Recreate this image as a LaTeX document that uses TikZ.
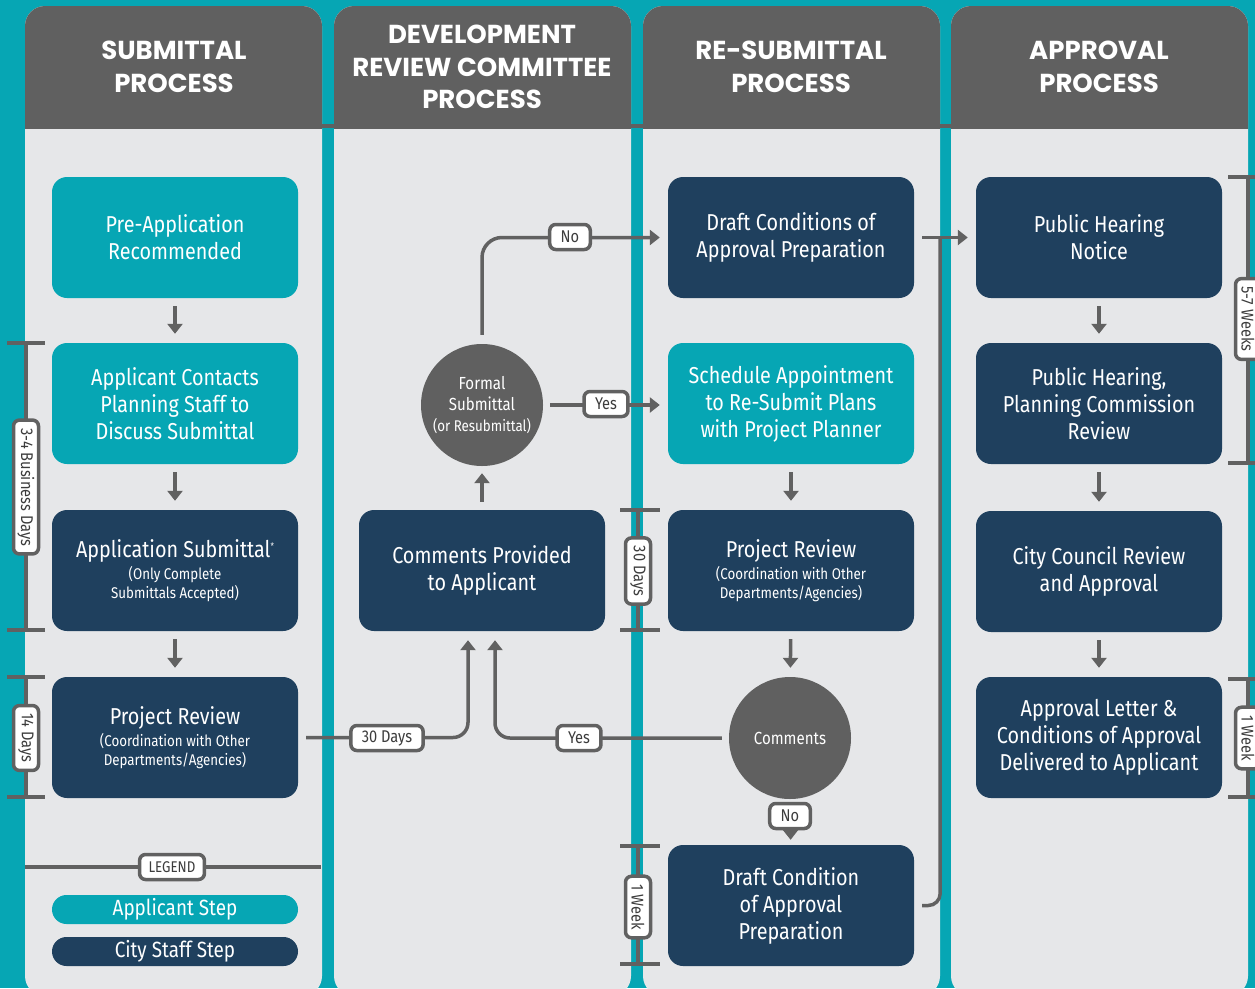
\documentclass[tikz,border=0pt]{standalone}
\usepackage{fontspec}
\setmainfont{Fira Sans}[FakeStretch=0.86]
\newfontfamily\headfont{Poppins}
\usetikzlibrary{arrows.meta}
\definecolor{tealc}{RGB}{6,166,180}
\definecolor{navyc}{RGB}{31,64,94}
\definecolor{hgray}{RGB}{96,96,96}
\definecolor{bgray}{RGB}{230,231,233}
\definecolor{lgray}{RGB}{97,97,97}
\definecolor{tagtext}{RGB}{60,60,60}
\newcommand{\subf}{\fontsize{15.5}{18}\selectfont}
\tikzset{
 box/.style={rounded corners=15pt, minimum width=246pt, minimum height=121pt, align=center, text=white, font=\fontsize{23}{27}\selectfont, inner sep=0pt},
 appbox/.style={box, fill=tealc},
 staffbox/.style={box, fill=navyc},
 dec/.style={circle, fill=hgray, minimum size=122pt, text=white, align=center, font=\fontsize{17.5}{21}\selectfont, inner sep=0pt},
 tagbox/.style={draw=lgray, line width=3.5pt, fill=white, rounded corners=6pt, font=\fontsize{17}{18}\selectfont, text=tagtext, inner xsep=11pt, inner ysep=0pt, minimum height=25pt},
 arr/.style={draw=lgray, line width=3.5pt, -{Triangle[width=15pt,length=10pt]}},
 conn/.style={draw=lgray, line width=3.5pt},
 brk/.style={draw=lgray, line width=4pt},
 header/.style={text=white, font=\headfont\bfseries\fontsize{26}{32.5}\selectfont, align=center},
 pill/.style={rounded corners=14.5pt, minimum width=246pt, minimum height=29pt, text=white, font=\fontsize{22}{24}\selectfont, inner sep=0pt}
}
\begin{document}
\begin{tikzpicture}[x=1pt,y=-1pt]
\useasboundingbox (0,0) rectangle (1255,988);
\fill[tealc] (0,0) rectangle (1255,988);
% columns
\foreach \L in {25,334,643,951}{
  \fill[bgray, rounded corners=20pt] (\L,6) rectangle (\L+297,996);
  \begin{scope}
    \clip (\L,0) rectangle (\L+297,128);
    \fill[hgray, rounded corners=20pt] (\L,6) rectangle (\L+297,200);
  \end{scope}
}
\fill[hgray] (25,124) rectangle (1248,128);
% headers
\node[header] (h1) at (174,67) {SUBMITTAL\\PROCESS};
\node[header] (h2) at (482,67) {DEVELOPMENT\\REVIEW COMMITTEE\\PROCESS};
\node[header] (h3) at (791,67) {RE-SUBMITTAL\\PROCESS};
\node[header] (h4) at (1099,67) {APPROVAL\\PROCESS};
% column 1
\node[appbox] (pre) at (175,237.5) {Pre-Application\\Recommended};
\node[appbox] (contact) at (175,403.5) {Applicant Contacts\\Planning Staff to\\Discuss Submittal};
\node[staffbox] (appsub) at (175,570.5) {Application Submittal\raisebox{8pt}{\fontsize{9}{9}\selectfont *}\\[-5pt]{\subf (Only Complete}\\[-8pt]{\subf Submittals Accepted)}};
\node[staffbox] (prj1) at (175,737.5) {Project Review\\[-5pt]{\subf (Coordination with Other}\\[-8pt]{\subf Departments/Agencies)}};
% column 2
\node[staffbox] (cp) at (482,570.5) {Comments Provided\\to Applicant};
\node[dec] (fs) at (482,405) {Formal\\Submittal\\{\subf (or Resubmittal)}};
% column 3
\node[staffbox] (dc1) at (791,237.5) {Draft Conditions of\\Approval Preparation};
\node[appbox] (sched) at (791,403.5) {Schedule Appointment\\to Re-Submit Plans\\with Project Planner};
\node[staffbox] (prj2) at (791,570.5) {Project Review\\[-5pt]{\subf (Coordination with Other}\\[-8pt]{\subf Departments/Agencies)}};
\node[dec] (cm) at (790,738) {Comments};
\node[staffbox] (dc2) at (791,905.5) {Draft Condition\\of Approval\\Preparation};
% column 4
\node[staffbox] (pub1) at (1099,237.5) {Public Hearing\\Notice};
\node[staffbox] (pub2) at (1099,403.5) {Public Hearing,\\Planning Commission\\Review};
\node[staffbox] (cc) at (1099,571.5) {City Council Review\\and Approval};
\node[staffbox] (al) at (1099,737.5) {Approval Letter \&\\Conditions of Approval\\Delivered to Applicant};
% vertical arrows
\draw[arr, shorten <=8pt, shorten >=9pt] (pre) -- (contact);
\draw[arr, shorten <=8pt, shorten >=9pt] (contact) -- (appsub);
\draw[arr, shorten <=8pt, shorten >=9pt] (appsub) -- (prj1);
\draw[arr, shorten <=8pt, shorten >=9pt] (sched) -- (prj2);
\draw[arr, shorten <=8pt, shorten >=9pt] (prj2) -- (cm);
\draw[arr, shorten <=8pt, shorten >=9pt] (pub1) -- (pub2);
\draw[arr, shorten <=8pt, shorten >=9pt] (pub2) -- (cc);
\draw[arr, shorten <=8pt, shorten >=9pt] (cc) -- (al);
\draw[arr, shorten <=8pt, shorten >=7pt] (cp) -- (fs);
\draw[arr, shorten <=4pt, shorten >=5pt] (cm) -- (dc2);
% routed connectors
\draw[arr, rounded corners=15pt, shorten <=8pt, shorten >=9pt] (prj1.east) -| ([xshift=-14pt]cp.south);
\draw[arr, rounded corners=15pt, shorten <=7pt, shorten >=9pt] (cm.west) -| ([xshift=13pt]cp.south);
\draw[arr, rounded corners=20pt, shorten <=9pt, shorten >=8pt] (fs.north) |- (dc1.west);
\draw[arr, shorten <=7pt, shorten >=8pt] (fs.east) -- (fs.east -| sched.west);
\coordinate (j) at ([xshift=26pt]dc1.east);
\draw[conn, rounded corners=12pt, shorten <=8pt] (dc2.east) -| (j);
\draw[arr, shorten <=8pt, shorten >=8pt] (dc1) -- (pub1);
% tags on connectors
\node[tagbox] (t30) at (387,738) {30 Days};
\node[tagbox] (tyes1) at (579,738) {Yes};
\node[tagbox] (tno1) at (570,237) {No};
\node[tagbox] (tyes2) at (606,404) {Yes};
\node[tagbox] (tno2) at (790,816) {No};
% brackets
\draw[brk] (26,343) -- (26,630) (7,343) -- (45,343) (7,630) -- (45,630);
\node[tagbox, rotate=-90, inner xsep=8pt] (b1) at (26,487) {3-4 Business Days};
\draw[brk] (26,677) -- (26,797) (7,677) -- (45,677) (7,797) -- (45,797);
\node[tagbox, rotate=-90, inner xsep=8pt] (b2) at (26,738) {14 Days};
\draw[brk] (638,510) -- (638,630) (620,510) -- (660,510) (620,630) -- (660,630);
\node[tagbox, rotate=-90, inner xsep=8pt] (b3) at (638,571) {30 Days};
\draw[brk] (638,846) -- (638,964) (620,846) -- (660,846) (620,964) -- (660,964);
\node[tagbox, rotate=-90, inner xsep=8pt] (b4) at (638,907) {1 Week};
\draw[brk] (1248,177) -- (1248,463) (1228,177) -- (1268,177) (1228,463) -- (1268,463);
\node[tagbox, rotate=-90, inner xsep=8pt] (b5) at (1248,319) {5-7 Weeks};
\draw[brk] (1248,679) -- (1248,797) (1228,679) -- (1268,679) (1228,797) -- (1268,797);
\node[tagbox, rotate=-90, inner xsep=8pt] (b6) at (1248,738) {1 Week};
% legend
\draw[conn] (25,867) -- (321,867);
\node[tagbox, font=\fontsize{15.5}{16}\selectfont, inner xsep=9pt] (leg) at (172,867) {LEGEND};
\node[pill, fill=tealc] (lg1) at (175,909.5) {Applicant Step};
\node[pill, fill=navyc] (lg2) at (175,951.5) {City Staff Step};
\end{tikzpicture}
\end{document}
